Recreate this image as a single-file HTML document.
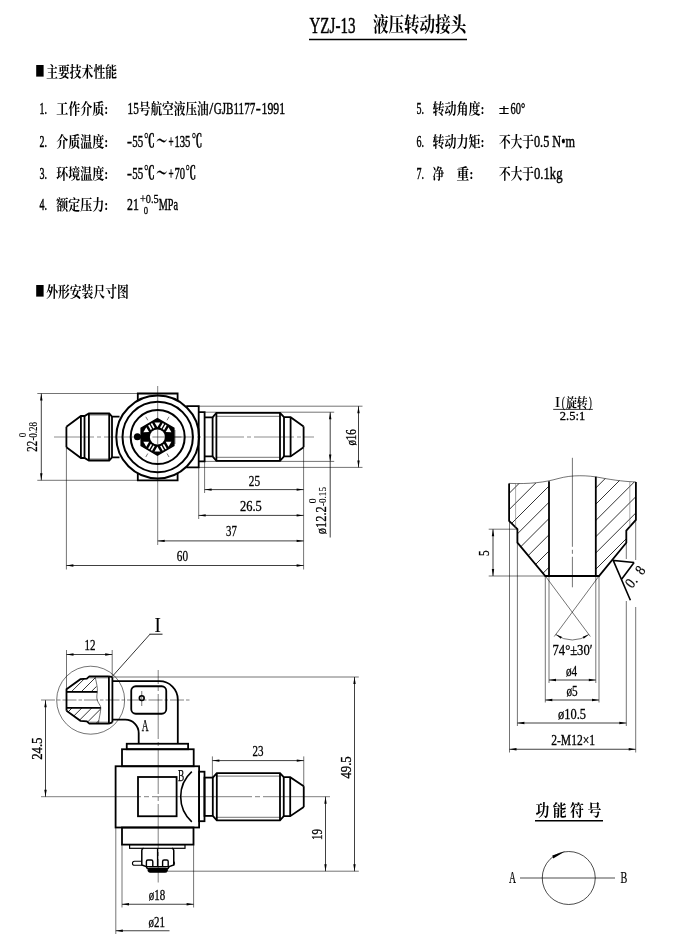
<!DOCTYPE html>
<html lang="zh"><head><meta charset="utf-8"><title>YZJ-13 液压转动接头</title>
<style>
html,body{margin:0;padding:0;background:#fff;}
body{width:689px;height:943px;overflow:hidden;}
svg{display:block;filter:grayscale(1);}
svg line,svg path,svg circle,svg rect{stroke:#000;}
svg text{font-family:"Liberation Serif","Noto Serif CJK SC",serif;fill:#000;stroke:none;}
.cn{font-weight:700;}
</style></head><body>
<svg width="689" height="943" viewBox="0 0 689 943">
<rect x="0" y="0" width="689" height="943" fill="#fff" stroke="none" style="stroke:none"/>
<g id="txt">
<text x="309.50" y="32.50" font-size="24" text-anchor="start" textLength="46.00" lengthAdjust="spacingAndGlyphs" style="stroke:#000;stroke-width:0.5px">YZJ-13</text>
<text x="373.00" y="32.00" font-size="20" text-anchor="start" textLength="93.25" lengthAdjust="spacingAndGlyphs" class="cn" >液压转动接头</text>
<line x1="309.00" y1="39.50" x2="467.00" y2="39.50" stroke-width="1.6" />
<text x="35.20" y="78.20" font-size="24" text-anchor="start" textLength="9.30" lengthAdjust="spacingAndGlyphs" >■</text>
<text x="46.25" y="77.20" font-size="14.5" text-anchor="start" textLength="70.75" lengthAdjust="spacingAndGlyphs" class="cn" >主要技术性能</text>
<text x="35.20" y="297.70" font-size="24" text-anchor="start" textLength="9.30" lengthAdjust="spacingAndGlyphs" >■</text>
<text x="46.25" y="296.70" font-size="14.5" text-anchor="start" textLength="82.50" lengthAdjust="spacingAndGlyphs" class="cn" >外形安装尺寸图</text>
<text x="39.50" y="113.70" font-size="17" text-anchor="start" textLength="7.50" lengthAdjust="spacingAndGlyphs" style="stroke:#000;stroke-width:0.45px">1.</text>
<text x="56.25" y="113.70" font-size="14.5" text-anchor="start" textLength="52.00" lengthAdjust="spacingAndGlyphs" class="cn" >工作介质:</text>
<text x="39.50" y="146.60" font-size="17" text-anchor="start" textLength="7.50" lengthAdjust="spacingAndGlyphs" style="stroke:#000;stroke-width:0.45px">2.</text>
<text x="56.25" y="146.60" font-size="14.5" text-anchor="start" textLength="52.00" lengthAdjust="spacingAndGlyphs" class="cn" >介质温度:</text>
<text x="39.50" y="179.00" font-size="17" text-anchor="start" textLength="7.50" lengthAdjust="spacingAndGlyphs" style="stroke:#000;stroke-width:0.45px">3.</text>
<text x="56.25" y="179.00" font-size="14.5" text-anchor="start" textLength="52.00" lengthAdjust="spacingAndGlyphs" class="cn" >环境温度:</text>
<text x="39.50" y="209.80" font-size="17" text-anchor="start" textLength="7.50" lengthAdjust="spacingAndGlyphs" style="stroke:#000;stroke-width:0.45px">4.</text>
<text x="56.25" y="209.80" font-size="14.5" text-anchor="start" textLength="52.00" lengthAdjust="spacingAndGlyphs" class="cn" >额定压力:</text>
<text x="127.50" y="113.70" font-size="17" text-anchor="start" textLength="11.25" lengthAdjust="spacingAndGlyphs" style="stroke:#000;stroke-width:0.45px">15</text>
<text x="138.75" y="113.70" font-size="14.5" text-anchor="start" textLength="70.00" lengthAdjust="spacingAndGlyphs" class="cn" >号航空液压油</text>
<text x="209.30" y="113.70" font-size="17" text-anchor="start" textLength="4.00" lengthAdjust="spacingAndGlyphs" style="stroke:#000;stroke-width:0.45px">/</text>
<text x="213.75" y="113.70" font-size="17" text-anchor="start" textLength="41.50" lengthAdjust="spacingAndGlyphs" style="stroke:#000;stroke-width:0.45px">GJB1177</text>
<text x="255.80" y="113.70" font-size="17" text-anchor="start" textLength="5.00" lengthAdjust="spacingAndGlyphs" style="stroke:#000;stroke-width:0.45px">-</text>
<text x="261.50" y="113.70" font-size="17" text-anchor="start" textLength="23.50" lengthAdjust="spacingAndGlyphs" style="stroke:#000;stroke-width:0.45px">1991</text>
<text x="127.00" y="146.60" font-size="17" text-anchor="start" textLength="5.00" lengthAdjust="spacingAndGlyphs" style="stroke:#000;stroke-width:0.45px">-</text>
<text x="132.30" y="146.60" font-size="17" text-anchor="start" textLength="10.90" lengthAdjust="spacingAndGlyphs" style="stroke:#000;stroke-width:0.45px">55</text>
<text x="144.00" y="146.60" font-size="18" text-anchor="start" textLength="10.80" lengthAdjust="spacingAndGlyphs" font-weight="900" class="cn" style="stroke:#000;stroke-width:0.4px">℃</text>
<text x="156.30" y="146.60" font-size="17" text-anchor="start" textLength="10.90" lengthAdjust="spacingAndGlyphs" font-weight="900" class="cn" style="stroke:#000;stroke-width:0.3px">～</text>
<text x="168.60" y="146.60" font-size="17" text-anchor="start" textLength="5.10" lengthAdjust="spacingAndGlyphs" style="stroke:#000;stroke-width:0.45px">+</text>
<text x="174.40" y="146.60" font-size="17" text-anchor="start" textLength="16.00" lengthAdjust="spacingAndGlyphs" style="stroke:#000;stroke-width:0.45px">135</text>
<text x="191.80" y="146.60" font-size="18" text-anchor="start" textLength="10.50" lengthAdjust="spacingAndGlyphs" font-weight="900" class="cn" style="stroke:#000;stroke-width:0.4px">℃</text>
<text x="127.00" y="179.00" font-size="17" text-anchor="start" textLength="5.00" lengthAdjust="spacingAndGlyphs" style="stroke:#000;stroke-width:0.45px">-</text>
<text x="132.30" y="179.00" font-size="17" text-anchor="start" textLength="10.90" lengthAdjust="spacingAndGlyphs" style="stroke:#000;stroke-width:0.45px">55</text>
<text x="144.00" y="179.00" font-size="18" text-anchor="start" textLength="10.80" lengthAdjust="spacingAndGlyphs" font-weight="900" class="cn" style="stroke:#000;stroke-width:0.4px">℃</text>
<text x="156.30" y="179.00" font-size="17" text-anchor="start" textLength="10.90" lengthAdjust="spacingAndGlyphs" font-weight="900" class="cn" style="stroke:#000;stroke-width:0.3px">～</text>
<text x="168.60" y="179.00" font-size="17" text-anchor="start" textLength="5.10" lengthAdjust="spacingAndGlyphs" style="stroke:#000;stroke-width:0.45px">+</text>
<text x="174.40" y="179.00" font-size="17" text-anchor="start" textLength="10.60" lengthAdjust="spacingAndGlyphs" style="stroke:#000;stroke-width:0.45px">70</text>
<text x="185.50" y="179.00" font-size="18" text-anchor="start" textLength="10.50" lengthAdjust="spacingAndGlyphs" font-weight="900" class="cn" style="stroke:#000;stroke-width:0.4px">℃</text>
<text x="127.00" y="209.80" font-size="17" text-anchor="start" textLength="11.75" lengthAdjust="spacingAndGlyphs" style="stroke:#000;stroke-width:0.45px">21</text>
<text x="140.00" y="203.30" font-size="13" text-anchor="start" textLength="18.75" lengthAdjust="spacingAndGlyphs" style="stroke:#000;stroke-width:0.3px">+0.5</text>
<text x="143.75" y="214.00" font-size="11" text-anchor="start" textLength="4.30" lengthAdjust="spacingAndGlyphs" style="stroke:#000;stroke-width:0.3px">0</text>
<text x="158.75" y="209.80" font-size="17" text-anchor="start" textLength="19.25" lengthAdjust="spacingAndGlyphs" style="stroke:#000;stroke-width:0.45px">MPa</text>
<text x="416.50" y="113.70" font-size="17" text-anchor="start" textLength="7.50" lengthAdjust="spacingAndGlyphs" style="stroke:#000;stroke-width:0.45px">5.</text>
<text x="432.50" y="113.70" font-size="14.5" text-anchor="start" textLength="52.00" lengthAdjust="spacingAndGlyphs" class="cn" >转动角度:</text>
<text x="498.60" y="113.70" font-size="15" text-anchor="start" textLength="11.00" lengthAdjust="spacingAndGlyphs" class="cn" >±</text>
<text x="510.60" y="113.70" font-size="17" text-anchor="start" textLength="14.60" lengthAdjust="spacingAndGlyphs" style="stroke:#000;stroke-width:0.45px">60°</text>
<text x="416.50" y="146.60" font-size="17" text-anchor="start" textLength="7.50" lengthAdjust="spacingAndGlyphs" style="stroke:#000;stroke-width:0.45px">6.</text>
<text x="432.50" y="146.60" font-size="14.5" text-anchor="start" textLength="52.00" lengthAdjust="spacingAndGlyphs" class="cn" >转动力矩:</text>
<text x="499.00" y="146.60" font-size="14.5" text-anchor="start" textLength="35.00" lengthAdjust="spacingAndGlyphs" class="cn" >不大于</text>
<text x="534.00" y="146.60" font-size="17" text-anchor="start" textLength="41.00" lengthAdjust="spacingAndGlyphs" style="stroke:#000;stroke-width:0.45px">0.5 N•m</text>
<text x="416.50" y="179.00" font-size="17" text-anchor="start" textLength="7.50" lengthAdjust="spacingAndGlyphs" style="stroke:#000;stroke-width:0.45px">7.</text>
<text x="432.50" y="179.00" font-size="14.5" text-anchor="start" textLength="11.60" lengthAdjust="spacingAndGlyphs" class="cn" >净</text>
<text x="456.50" y="179.00" font-size="14.5" text-anchor="start" textLength="17.00" lengthAdjust="spacingAndGlyphs" class="cn" >重:</text>
<text x="499.00" y="179.00" font-size="14.5" text-anchor="start" textLength="35.00" lengthAdjust="spacingAndGlyphs" class="cn" >不大于</text>
<text x="534.00" y="179.00" font-size="17" text-anchor="start" textLength="28.50" lengthAdjust="spacingAndGlyphs" style="stroke:#000;stroke-width:0.45px">0.1kg</text>
</g>
<g id="d1">
<path d="M66.40,426.70 L80.90,416.00 L84.50,416.00 L88.90,413.50 L109.20,413.50 L112.00,416.70 L119.50,416.70" stroke-width="1.8" fill="none" />
<path d="M66.40,447.30 L80.90,458.00 L84.50,458.00 L88.90,460.50 L109.20,460.50 L112.00,457.30 L119.50,457.30" stroke-width="1.8" fill="none" />
<line x1="66.40" y1="426.70" x2="66.40" y2="447.30" stroke-width="1.8" />
<line x1="80.90" y1="416.00" x2="80.90" y2="458.00" stroke-width="1.8" />
<line x1="84.50" y1="416.00" x2="84.50" y2="458.00" stroke-width="1.8" />
<line x1="88.90" y1="413.50" x2="88.90" y2="460.50" stroke-width="1.8" />
<line x1="109.20" y1="413.50" x2="109.20" y2="460.50" stroke-width="1.8" />
<line x1="112.00" y1="416.70" x2="112.00" y2="457.30" stroke-width="1.8" />
<line x1="88.90" y1="415.00" x2="109.20" y2="415.00" stroke-width="0.55" />
<line x1="88.90" y1="459.00" x2="109.20" y2="459.00" stroke-width="0.55" />
<path d="M137.80,400.60 L137.80,393.50 L177.60,393.50 L177.60,400.60" stroke-width="1.8" fill="none" />
<path d="M137.80,473.30 L137.80,480.30 L177.60,480.30 L177.60,473.30" stroke-width="1.8" fill="none" />
<path d="M186.20,406.20 L198.70,406.20 L198.70,467.40 L186.20,467.40" stroke-width="1.8" fill="none" />
<circle cx="157.70" cy="437.00" r="41.40" stroke-width="2.0" fill="none" />
<circle cx="157.70" cy="437.00" r="35.20" stroke-width="2.0" fill="none" />
<circle cx="157.70" cy="437.00" r="27.00" stroke-width="2.0" fill="none" />
<line x1="54.00" y1="437.00" x2="314.00" y2="437.00" stroke-width="0.45" stroke-dasharray="40 3 4 3"/>
<line x1="157.70" y1="386.00" x2="157.70" y2="545.00" stroke-width="0.5" />
<path d="M157.40,418.70 L173.80,428.20 L173.80,445.60 L157.40,455.10 L141.20,445.60 L141.20,428.20 Z" stroke-width="1.6" fill="#000" />
<path d="M154.50,422.40 L160.30,422.40 L157.40,427.30 Z" stroke-width="0" fill="#fff" style="stroke:none"/>
<path d="M168.51,427.14 L171.41,432.16 L165.71,432.10 Z" stroke-width="0" fill="#fff" style="stroke:none"/>
<path d="M171.41,441.64 L168.51,446.66 L165.71,441.70 Z" stroke-width="0" fill="#fff" style="stroke:none"/>
<path d="M160.30,451.40 L154.50,451.40 L157.40,446.50 Z" stroke-width="0" fill="#fff" style="stroke:none"/>
<path d="M146.29,446.66 L143.39,441.64 L149.09,441.70 Z" stroke-width="0" fill="#fff" style="stroke:none"/>
<path d="M143.39,432.16 L146.29,427.14 L149.09,432.10 Z" stroke-width="0" fill="#fff" style="stroke:none"/>
<path d="M160.11,427.61 L161.49,428.41 L164.09,423.91 L162.71,423.11 Z" stroke-width="0" fill="#fff" style="stroke:none"/>
<path d="M162.71,429.11 L164.09,429.91 L166.69,425.41 L165.31,424.61 Z" stroke-width="0" fill="#fff" style="stroke:none"/>
<path d="M164.09,443.89 L162.71,444.69 L165.31,449.19 L166.69,448.39 Z" stroke-width="0" fill="#fff" style="stroke:none"/>
<path d="M161.49,445.39 L160.11,446.19 L162.71,450.69 L164.09,449.89 Z" stroke-width="0" fill="#fff" style="stroke:none"/>
<path d="M154.69,446.19 L153.31,445.39 L150.71,449.89 L152.09,450.69 Z" stroke-width="0" fill="#fff" style="stroke:none"/>
<path d="M152.09,444.69 L150.71,443.89 L148.11,448.39 L149.49,449.19 Z" stroke-width="0" fill="#fff" style="stroke:none"/>
<path d="M150.71,429.91 L152.09,429.11 L149.49,424.61 L148.11,425.41 Z" stroke-width="0" fill="#fff" style="stroke:none"/>
<path d="M153.31,428.41 L154.69,427.61 L152.09,423.11 L150.71,423.91 Z" stroke-width="0" fill="#fff" style="stroke:none"/>
<rect x="141.40" y="434.00" width="9.00" height="5.80" rx="0" stroke-width="0" fill="#000" style="stroke:none"/>
<rect x="164.40" y="434.00" width="9.00" height="5.80" rx="0" stroke-width="0" fill="#000" style="stroke:none"/>
<circle cx="157.40" cy="436.90" r="7.50" stroke-width="0" fill="#fff" style="stroke:none"/>
<line x1="152.40" y1="437.00" x2="181.40" y2="437.00" stroke-width="0.5" />
<line x1="157.70" y1="429.40" x2="157.70" y2="444.40" stroke-width="0.5" />
<circle cx="137.40" cy="436.80" r="2.60" stroke-width="1.8" fill="#000" />
<line x1="139.00" y1="436.80" x2="142.00" y2="436.80" stroke-width="3.0" />
<line x1="174.90" y1="430.00" x2="174.90" y2="444.00" stroke-width="0.6" />
<line x1="167.00" y1="420.27" x2="169.00" y2="416.81" stroke-width="0.55" />
<line x1="147.80" y1="420.27" x2="145.80" y2="416.81" stroke-width="0.55" />
<line x1="167.00" y1="453.53" x2="169.00" y2="456.99" stroke-width="0.55" />
<line x1="147.80" y1="453.53" x2="145.80" y2="456.99" stroke-width="0.55" />
<path d="M198.70,412.20 L204.60,412.20 L204.60,461.40 L198.70,461.40" stroke-width="1.8" fill="none" />
<path d="M204.60,417.30 L212.60,417.30 L216.40,412.80 L280.00,412.80 L284.00,417.20 L290.60,417.20 L303.60,426.40" stroke-width="1.8" fill="none" />
<path d="M204.60,456.30 L212.60,456.30 L216.40,460.80 L280.00,460.80 L284.00,456.40 L290.60,456.40 L303.60,447.20" stroke-width="1.8" fill="none" />
<line x1="212.60" y1="417.30" x2="212.60" y2="456.30" stroke-width="1.8" />
<line x1="216.40" y1="412.80" x2="216.40" y2="460.80" stroke-width="1.8" />
<line x1="280.00" y1="412.80" x2="280.00" y2="460.80" stroke-width="1.8" />
<line x1="284.00" y1="417.20" x2="284.00" y2="456.40" stroke-width="1.8" />
<line x1="290.60" y1="417.20" x2="290.60" y2="456.40" stroke-width="1.8" />
<line x1="303.60" y1="426.40" x2="303.60" y2="447.20" stroke-width="1.8" />
<line x1="216.40" y1="416.30" x2="280.00" y2="416.30" stroke-width="0.55" />
<line x1="216.40" y1="457.30" x2="280.00" y2="457.30" stroke-width="0.55" />
<line x1="37.30" y1="393.50" x2="137.80" y2="393.50" stroke-width="0.55" />
<line x1="37.30" y1="480.30" x2="137.80" y2="480.30" stroke-width="0.55" />
<line x1="41.30" y1="393.50" x2="41.30" y2="480.30" stroke-width="0.75" />
<polygon points="41.30,393.50 42.50,400.50 40.10,400.50" fill="#000" stroke="none"/>
<polygon points="41.30,480.30 40.10,473.30 42.50,473.30" fill="#000" stroke="none"/>
<line x1="198.70" y1="406.20" x2="362.50" y2="406.20" stroke-width="0.55" />
<line x1="198.70" y1="467.40" x2="362.50" y2="467.40" stroke-width="0.55" />
<line x1="358.50" y1="406.20" x2="358.50" y2="467.40" stroke-width="0.75" />
<polygon points="358.50,406.20 359.70,413.20 357.30,413.20" fill="#000" stroke="none"/>
<polygon points="358.50,467.40 357.30,460.40 359.70,460.40" fill="#000" stroke="none"/>
<line x1="204.60" y1="412.20" x2="334.20" y2="412.20" stroke-width="0.55" />
<line x1="204.60" y1="461.40" x2="334.20" y2="461.40" stroke-width="0.55" />
<line x1="330.20" y1="412.20" x2="330.20" y2="461.40" stroke-width="0.75" />
<polygon points="330.20,412.20 331.40,419.20 329.00,419.20" fill="#000" stroke="none"/>
<polygon points="330.20,461.40 329.00,454.40 331.40,454.40" fill="#000" stroke="none"/>
<line x1="330.20" y1="461.40" x2="330.20" y2="537.50" stroke-width="0.75" />
<line x1="303.60" y1="447.40" x2="303.60" y2="569.50" stroke-width="0.55" />
<line x1="204.60" y1="461.40" x2="204.60" y2="493.00" stroke-width="0.55" />
<line x1="204.60" y1="489.60" x2="303.60" y2="489.60" stroke-width="0.75" />
<polygon points="204.60,489.60 211.60,488.40 211.60,490.80" fill="#000" stroke="none"/>
<polygon points="303.60,489.60 296.60,490.80 296.60,488.40" fill="#000" stroke="none"/>
<line x1="198.70" y1="467.40" x2="198.70" y2="519.00" stroke-width="0.55" />
<line x1="198.70" y1="515.40" x2="303.60" y2="515.40" stroke-width="0.75" />
<polygon points="198.70,515.40 205.70,514.20 205.70,516.60" fill="#000" stroke="none"/>
<polygon points="303.60,515.40 296.60,516.60 296.60,514.20" fill="#000" stroke="none"/>
<line x1="157.70" y1="540.90" x2="303.60" y2="540.90" stroke-width="0.75" />
<polygon points="157.70,540.90 164.70,539.70 164.70,542.10" fill="#000" stroke="none"/>
<polygon points="303.60,540.90 296.60,542.10 296.60,539.70" fill="#000" stroke="none"/>
<line x1="66.40" y1="447.30" x2="66.40" y2="569.50" stroke-width="0.55" />
<line x1="66.40" y1="565.50" x2="303.60" y2="565.50" stroke-width="0.75" />
<polygon points="66.40,565.50 73.40,564.30 73.40,566.70" fill="#000" stroke="none"/>
<polygon points="303.60,565.50 296.60,566.70 296.60,564.30" fill="#000" stroke="none"/>
</g>
<g id="d1t">
<text x="248.80" y="485.70" font-size="14.6" text-anchor="start" textLength="11.30" lengthAdjust="spacingAndGlyphs" style="stroke:#000;stroke-width:0.3px">25</text>
<text x="240.00" y="511.40" font-size="14.6" text-anchor="start" textLength="21.80" lengthAdjust="spacingAndGlyphs" style="stroke:#000;stroke-width:0.3px">26.5</text>
<text x="226.00" y="536.40" font-size="14.6" text-anchor="start" textLength="10.80" lengthAdjust="spacingAndGlyphs" style="stroke:#000;stroke-width:0.3px">37</text>
<text x="176.80" y="561.30" font-size="14.6" text-anchor="start" textLength="11.20" lengthAdjust="spacingAndGlyphs" style="stroke:#000;stroke-width:0.3px">60</text>
<text x="0" y="0" transform="translate(355.70,445.60) rotate(-90)" font-size="14.6" text-anchor="start" textLength="16.40" lengthAdjust="spacingAndGlyphs" style="stroke:#000;stroke-width:0.3px">ø16</text>
<text x="0" y="0" transform="translate(326.20,534.20) rotate(-90)" font-size="14.6" text-anchor="start" textLength="27.90" lengthAdjust="spacingAndGlyphs" style="stroke:#000;stroke-width:0.3px">ø12.2</text>
<text x="0" y="0" transform="translate(326.20,506.00) rotate(-90)" font-size="9.5" text-anchor="start" textLength="19.00" lengthAdjust="spacingAndGlyphs" style="stroke:#000;stroke-width:0.1px">-0.15</text>
<text x="0" y="0" transform="translate(315.90,503.20) rotate(-90)" font-size="9.5" text-anchor="start" textLength="4.80" lengthAdjust="spacingAndGlyphs" style="stroke:#000;stroke-width:0.1px">0</text>
<text x="0" y="0" transform="translate(37.10,451.80) rotate(-90)" font-size="14.6" text-anchor="start" textLength="10.90" lengthAdjust="spacingAndGlyphs" style="stroke:#000;stroke-width:0.3px">22</text>
<text x="0" y="0" transform="translate(37.10,440.60) rotate(-90)" font-size="12.5" text-anchor="start" textLength="18.60" lengthAdjust="spacingAndGlyphs" style="stroke:#000;stroke-width:0.1px">-0.28</text>
<text x="0" y="0" transform="translate(26.20,437.30) rotate(-90)" font-size="9.5" text-anchor="start" textLength="4.60" lengthAdjust="spacingAndGlyphs" style="stroke:#000;stroke-width:0.1px">0</text>
</g>
<g id="d2">
<circle cx="90.65" cy="700.20" r="34.00" stroke-width="0.55" fill="none" />
<clipPath id="ct"><path d="M66.5,689.2 L80.4,679.2 L86.8,678.6 L89.4,676.3 L95,676.3 L97.3,691.9 L66.5,691.9 Z"/></clipPath>
<clipPath id="cb"><path d="M66.5,710.8 L80.4,720.8 L86.8,721.4 L89.4,723.7 L98.4,723.7 L100.8,707.9 L66.5,707.9 Z"/></clipPath>
<g clip-path="url(#ct)">
<line x1="38.10" y1="725.00" x2="93.10" y2="670.00" stroke-width="0.8" />
<line x1="48.00" y1="725.00" x2="103.00" y2="670.00" stroke-width="0.8" />
<line x1="57.90" y1="725.00" x2="112.90" y2="670.00" stroke-width="0.8" />
<line x1="67.80" y1="725.00" x2="122.80" y2="670.00" stroke-width="0.8" />
</g><g clip-path="url(#cb)">
<line x1="50.00" y1="730.00" x2="80.00" y2="700.00" stroke-width="0.8" />
<line x1="59.80" y1="730.00" x2="89.80" y2="700.00" stroke-width="0.8" />
<line x1="69.70" y1="730.00" x2="99.70" y2="700.00" stroke-width="0.8" />
<line x1="79.60" y1="730.00" x2="109.60" y2="700.00" stroke-width="0.8" />
<line x1="89.50" y1="730.00" x2="119.50" y2="700.00" stroke-width="0.8" />
</g>
<path d="M66.50,710.80 L66.50,689.20 L80.40,679.20 L86.80,678.60 L89.40,676.30 L108.90,676.30" stroke-width="1.8" fill="none" />
<path d="M66.50,710.80 L80.40,720.80 L86.80,721.40 L89.40,723.70 L108.90,723.70" stroke-width="1.8" fill="none" />
<line x1="108.90" y1="676.30" x2="108.90" y2="723.70" stroke-width="1.8" />
<line x1="112.40" y1="677.20" x2="112.40" y2="722.40" stroke-width="1.8" />
<line x1="108.90" y1="676.30" x2="112.40" y2="677.20" stroke-width="1.8" />
<line x1="108.90" y1="723.70" x2="112.40" y2="722.40" stroke-width="1.8" />
<line x1="89.40" y1="677.80" x2="108.90" y2="677.80" stroke-width="0.55" />
<line x1="89.40" y1="722.20" x2="108.90" y2="722.20" stroke-width="0.55" />
<line x1="66.50" y1="691.90" x2="97.30" y2="691.90" stroke-width="1.8" />
<line x1="66.50" y1="707.90" x2="100.80" y2="707.90" stroke-width="1.8" />
<path d="M95,676.3 C96.5,683 97.8,688 97.3,691.9 C96.8,696 96.2,698 98,702 C99.6,705 100.8,706 100.8,707.9 C100.8,712 99,718 98.4,723.7" stroke-width="0.55" fill="none" />
<path d="M112.4,681.2 L159.5,681.2 A18.3,18.3 0 0 1 177.8,699.5 L177.8,743.75" stroke-width="1.8" fill="none" />
<path d="M112.4,719.6 L125.3,719.6 A13.4,13.4 0 0 1 138.7,733 L138.7,743.75" stroke-width="1.8" fill="none" />
<rect x="131.25" y="686.25" width="35.00" height="27.50" rx="4.5" stroke-width="1.8" fill="none" />
<circle cx="141.75" cy="698.10" r="2.40" stroke-width="1.6" fill="none" />
<line x1="141.75" y1="691.00" x2="141.75" y2="706.00" stroke-width="0.55" />
<rect x="126.75" y="743.75" width="61.35" height="5.50" rx="0" stroke-width="1.8" fill="none" />
<rect x="122.00" y="749.25" width="71.70" height="17.00" rx="0" stroke-width="1.8" fill="none" />
<rect x="115.60" y="766.25" width="83.50" height="61.25" rx="0" stroke-width="1.8" fill="none" />
<rect x="138.00" y="777.00" width="38.60" height="39.25" rx="0" stroke-width="1.8" fill="none" />
<path d="M191.8,771.7 A33.8,33.8 0 0 0 191.8,821.8" stroke-width="1.6" fill="none" />
<rect x="122.00" y="827.50" width="71.50" height="17.10" rx="0" stroke-width="1.8" fill="none" />
<rect x="129.60" y="844.60" width="55.40" height="3.70" rx="0" stroke-width="1.2" fill="none" />
<path d="M143.5,848.3 Q141.8,848.6 141.8,850.5 L141.8,865 L146.2,866.6 L147.3,868.5 L168,868.5 L169.2,866.6 L173.75,865 L173.75,850.5 Q173.75,848.6 172,848.3" stroke-width="1.5" fill="none" />
<line x1="157.60" y1="848.30" x2="157.60" y2="866.60" stroke-width="1.4" />
<path d="M146.4,866.6 L146.4,861.5 Q146.4,860 147.9,860 L151.3,860 Q152.8,860 152.8,861.5 L152.8,866.6" stroke-width="1.4" fill="none" />
<path d="M162.6,866.6 L162.6,861.5 Q162.6,860 164.1,860 L166.7,860 Q168.2,860 168.2,861.5 L168.2,866.6" stroke-width="1.4" fill="none" />
<line x1="146.20" y1="866.60" x2="169.20" y2="866.60" stroke-width="1.2" />
<path d="M141.8,861.2 L134.5,861.2 A2.05,2.05 0 0 0 134.5,865.3 L141.8,865.3" stroke-width="1.1" fill="none" />
<path d="M173.75,861.2 Q175.5,863 173.75,865.3" stroke-width="1.0" fill="none" />
<rect x="148.00" y="868.30" width="19.50" height="3.90" rx="1.8" stroke-width="1.0" fill="#000" />
<rect x="199.10" y="771.70" width="5.40" height="49.50" rx="0" stroke-width="1.8" fill="none" />
<rect x="204.50" y="777.60" width="8.30" height="38.30" rx="0" stroke-width="1.8" fill="none" />
<path d="M212.80,777.60 L216.80,773.10 L280.00,773.10 L283.75,777.20 L290.20,777.20 L303.75,786.30" stroke-width="1.8" fill="none" />
<path d="M212.80,815.80 L216.80,820.30 L280.00,820.30 L283.75,816.20 L290.20,816.20 L303.75,807.10" stroke-width="1.8" fill="none" />
<line x1="216.80" y1="773.10" x2="216.80" y2="820.30" stroke-width="1.8" />
<line x1="280.00" y1="773.10" x2="280.00" y2="820.30" stroke-width="1.8" />
<line x1="283.75" y1="777.20" x2="283.75" y2="816.20" stroke-width="1.8" />
<line x1="290.20" y1="777.20" x2="290.20" y2="816.20" stroke-width="1.8" />
<line x1="303.75" y1="786.30" x2="303.75" y2="807.10" stroke-width="1.8" />
<line x1="216.80" y1="776.10" x2="280.00" y2="776.10" stroke-width="0.55" />
<line x1="216.80" y1="817.30" x2="280.00" y2="817.30" stroke-width="0.55" />
<line x1="41.00" y1="700.00" x2="190.00" y2="700.00" stroke-width="0.5" stroke-dasharray="14 2 3.5 2"/>
<line x1="41.00" y1="796.70" x2="330.00" y2="796.70" stroke-width="0.5" stroke-dasharray="100 3 5 3"/>
<line x1="158.20" y1="670.00" x2="158.20" y2="882.50" stroke-width="0.5" stroke-dasharray="45 3 4 3" stroke-dashoffset="31"/>
<line x1="66.50" y1="650.00" x2="66.50" y2="689.00" stroke-width="0.55" />
<line x1="112.20" y1="650.00" x2="112.20" y2="676.50" stroke-width="0.55" />
<line x1="66.50" y1="654.50" x2="112.20" y2="654.50" stroke-width="0.75" />
<polygon points="66.50,654.50 73.50,653.30 73.50,655.70" fill="#000" stroke="none"/>
<polygon points="112.20,654.50 105.20,655.70 105.20,653.30" fill="#000" stroke="none"/>
<line x1="149.50" y1="634.20" x2="162.50" y2="634.20" stroke-width="0.9" />
<line x1="150.00" y1="634.20" x2="112.50" y2="676.20" stroke-width="0.8" />
<line x1="45.50" y1="700.20" x2="45.50" y2="796.70" stroke-width="0.75" />
<polygon points="45.50,700.20 46.70,707.20 44.30,707.20" fill="#000" stroke="none"/>
<polygon points="45.50,796.70 44.30,789.70 46.70,789.70" fill="#000" stroke="none"/>
<line x1="212.40" y1="756.40" x2="212.40" y2="777.00" stroke-width="0.55" />
<line x1="303.75" y1="756.40" x2="303.75" y2="787.00" stroke-width="0.55" />
<line x1="212.40" y1="760.60" x2="303.75" y2="760.60" stroke-width="0.75" />
<polygon points="212.40,760.60 219.40,759.40 219.40,761.80" fill="#000" stroke="none"/>
<polygon points="303.75,760.60 296.75,761.80 296.75,759.40" fill="#000" stroke="none"/>
<line x1="325.50" y1="796.70" x2="325.50" y2="871.20" stroke-width="0.75" />
<polygon points="325.50,796.70 326.70,803.70 324.30,803.70" fill="#000" stroke="none"/>
<polygon points="325.50,871.20 324.30,864.20 326.70,864.20" fill="#000" stroke="none"/>
<line x1="112.40" y1="677.00" x2="358.80" y2="677.00" stroke-width="0.55" />
<line x1="168.00" y1="871.20" x2="358.80" y2="871.20" stroke-width="0.55" />
<line x1="354.50" y1="677.00" x2="354.50" y2="871.20" stroke-width="0.75" />
<polygon points="354.50,677.00 355.70,684.00 353.30,684.00" fill="#000" stroke="none"/>
<polygon points="354.50,871.20 353.30,864.20 355.70,864.20" fill="#000" stroke="none"/>
<line x1="122.00" y1="844.60" x2="122.00" y2="907.50" stroke-width="0.55" />
<line x1="193.60" y1="844.60" x2="193.60" y2="907.50" stroke-width="0.55" />
<line x1="122.00" y1="904.25" x2="193.60" y2="904.25" stroke-width="0.75" />
<polygon points="122.00,904.25 129.00,903.05 129.00,905.45" fill="#000" stroke="none"/>
<polygon points="193.60,904.25 186.60,905.45 186.60,903.05" fill="#000" stroke="none"/>
<line x1="115.80" y1="827.50" x2="115.80" y2="934.00" stroke-width="0.55" />
<line x1="115.80" y1="930.75" x2="169.50" y2="930.75" stroke-width="0.75" />
<polygon points="115.80,930.75 122.80,929.55 122.80,931.95" fill="#000" stroke="none"/>
</g>
<g id="d2t">
<text x="84.50" y="650.20" font-size="14.6" text-anchor="start" textLength="11.00" lengthAdjust="spacingAndGlyphs" style="stroke:#000;stroke-width:0.3px">12</text>
<text x="154.40" y="631.60" font-size="20" text-anchor="start" textLength="6.40" lengthAdjust="spacingAndGlyphs" style="stroke:#000;stroke-width:0.1px">I</text>
<text x="0" y="0" transform="translate(42.30,759.80) rotate(-90)" font-size="14.6" text-anchor="start" textLength="22.30" lengthAdjust="spacingAndGlyphs" style="stroke:#000;stroke-width:0.3px">24.5</text>
<text x="252.50" y="756.00" font-size="14.6" text-anchor="start" textLength="11.00" lengthAdjust="spacingAndGlyphs" style="stroke:#000;stroke-width:0.3px">23</text>
<text x="0" y="0" transform="translate(321.50,840.00) rotate(-90)" font-size="14.6" text-anchor="start" textLength="11.00" lengthAdjust="spacingAndGlyphs" style="stroke:#000;stroke-width:0.3px">19</text>
<text x="0" y="0" transform="translate(350.70,778.60) rotate(-90)" font-size="14.6" text-anchor="start" textLength="22.30" lengthAdjust="spacingAndGlyphs" style="stroke:#000;stroke-width:0.3px">49.5</text>
<text x="148.80" y="900.20" font-size="14.6" text-anchor="start" textLength="16.40" lengthAdjust="spacingAndGlyphs" style="stroke:#000;stroke-width:0.3px">ø18</text>
<text x="148.50" y="926.50" font-size="14.6" text-anchor="start" textLength="16.40" lengthAdjust="spacingAndGlyphs" style="stroke:#000;stroke-width:0.3px">ø21</text>
<text x="141.70" y="731.20" font-size="17" text-anchor="start" textLength="6.80" lengthAdjust="spacingAndGlyphs" style="stroke:#000;stroke-width:0.25px">A</text>
<text x="178.00" y="780.60" font-size="16" text-anchor="start" textLength="6.20" lengthAdjust="spacingAndGlyphs" style="stroke:#000;stroke-width:0.25px">B</text>
</g>
<g id="d3">
<clipPath id="cl"><path d="M509.1,483.4 C530,484.2 545,482.3 549,481.3 L549,576 L545.3,576 L517.4,542.7 L517.4,529.2 L509.1,520.9 Z"/></clipPath><clipPath id="cr"><path d="M595.8,476.7 C605,478.6 625,481.6 635.9,481.9 L635.9,519.8 L626.3,530.7 L626.3,542.7 L599,576 L595.8,576 Z"/></clipPath>
<g clip-path="url(#cl)">
<line x1="380.00" y1="590.00" x2="500.00" y2="470.00" stroke-width="0.8" />
<line x1="396.25" y1="590.00" x2="516.25" y2="470.00" stroke-width="0.8" />
<line x1="412.50" y1="590.00" x2="532.50" y2="470.00" stroke-width="0.8" />
<line x1="428.75" y1="590.00" x2="548.75" y2="470.00" stroke-width="0.8" />
<line x1="445.00" y1="590.00" x2="565.00" y2="470.00" stroke-width="0.8" />
<line x1="461.25" y1="590.00" x2="581.25" y2="470.00" stroke-width="0.8" />
<line x1="477.50" y1="590.00" x2="597.50" y2="470.00" stroke-width="0.8" />
<line x1="493.75" y1="590.00" x2="613.75" y2="470.00" stroke-width="0.8" />
<line x1="510.00" y1="590.00" x2="630.00" y2="470.00" stroke-width="0.8" />
<line x1="526.25" y1="590.00" x2="646.25" y2="470.00" stroke-width="0.8" />
<line x1="542.50" y1="590.00" x2="662.50" y2="470.00" stroke-width="0.8" />
<line x1="558.75" y1="590.00" x2="678.75" y2="470.00" stroke-width="0.8" />
<line x1="575.00" y1="590.00" x2="695.00" y2="470.00" stroke-width="0.8" />
<line x1="591.25" y1="590.00" x2="711.25" y2="470.00" stroke-width="0.8" />
<line x1="607.50" y1="590.00" x2="727.50" y2="470.00" stroke-width="0.8" />
<line x1="623.75" y1="590.00" x2="743.75" y2="470.00" stroke-width="0.8" />
<line x1="640.00" y1="590.00" x2="760.00" y2="470.00" stroke-width="0.8" />
<line x1="656.25" y1="590.00" x2="776.25" y2="470.00" stroke-width="0.8" />
</g>
<g clip-path="url(#cr)">
<line x1="380.00" y1="590.00" x2="500.00" y2="470.00" stroke-width="0.8" />
<line x1="396.25" y1="590.00" x2="516.25" y2="470.00" stroke-width="0.8" />
<line x1="412.50" y1="590.00" x2="532.50" y2="470.00" stroke-width="0.8" />
<line x1="428.75" y1="590.00" x2="548.75" y2="470.00" stroke-width="0.8" />
<line x1="445.00" y1="590.00" x2="565.00" y2="470.00" stroke-width="0.8" />
<line x1="461.25" y1="590.00" x2="581.25" y2="470.00" stroke-width="0.8" />
<line x1="477.50" y1="590.00" x2="597.50" y2="470.00" stroke-width="0.8" />
<line x1="493.75" y1="590.00" x2="613.75" y2="470.00" stroke-width="0.8" />
<line x1="510.00" y1="590.00" x2="630.00" y2="470.00" stroke-width="0.8" />
<line x1="526.25" y1="590.00" x2="646.25" y2="470.00" stroke-width="0.8" />
<line x1="542.50" y1="590.00" x2="662.50" y2="470.00" stroke-width="0.8" />
<line x1="558.75" y1="590.00" x2="678.75" y2="470.00" stroke-width="0.8" />
<line x1="575.00" y1="590.00" x2="695.00" y2="470.00" stroke-width="0.8" />
<line x1="591.25" y1="590.00" x2="711.25" y2="470.00" stroke-width="0.8" />
<line x1="607.50" y1="590.00" x2="727.50" y2="470.00" stroke-width="0.8" />
<line x1="623.75" y1="590.00" x2="743.75" y2="470.00" stroke-width="0.8" />
<line x1="640.00" y1="590.00" x2="760.00" y2="470.00" stroke-width="0.8" />
<line x1="656.25" y1="590.00" x2="776.25" y2="470.00" stroke-width="0.8" />
</g>
<path d="M509.1,483.4 C530,484.2 545,482.3 558,478.6 C572,474.6 588,475.3 600,477.6 C615,480.5 628,481.8 635.9,481.9" stroke-width="0.55" fill="none" />
<path d="M509.10,483.40 L509.10,520.90 L517.40,529.20 L517.40,542.70 L545.30,576.00 L599.00,576.00 L626.30,542.70 L626.30,530.70 L635.90,519.80 L635.90,481.90" stroke-width="1.8" fill="none" />
<line x1="549.00" y1="481.30" x2="549.00" y2="576.00" stroke-width="1.8" />
<line x1="595.80" y1="476.70" x2="595.80" y2="576.00" stroke-width="1.8" />
<line x1="515.60" y1="483.60" x2="515.60" y2="527.40" stroke-width="0.55" style="stroke:#666"/>
<line x1="629.80" y1="481.60" x2="629.80" y2="526.80" stroke-width="0.55" style="stroke:#666"/>
<line x1="572.40" y1="457.80" x2="572.40" y2="587.30" stroke-width="0.55" stroke-dasharray="89 3 4 3"/>
<line x1="509.50" y1="520.90" x2="509.50" y2="752.50" stroke-width="0.55" />
<line x1="517.40" y1="542.70" x2="517.40" y2="726.00" stroke-width="0.55" />
<line x1="545.30" y1="576.00" x2="545.30" y2="702.50" stroke-width="0.55" />
<line x1="549.00" y1="576.00" x2="549.00" y2="683.00" stroke-width="0.55" />
<line x1="595.80" y1="576.00" x2="595.80" y2="683.00" stroke-width="0.55" />
<line x1="599.00" y1="576.00" x2="599.00" y2="702.50" stroke-width="0.55" />
<line x1="626.30" y1="542.70" x2="626.30" y2="559.00" stroke-width="0.55" />
<line x1="626.30" y1="601.00" x2="626.30" y2="726.00" stroke-width="0.55" />
<line x1="635.70" y1="519.80" x2="635.70" y2="560.00" stroke-width="0.55" />
<line x1="635.70" y1="607.00" x2="635.70" y2="752.50" stroke-width="0.55" />
<line x1="545.30" y1="576.00" x2="590.35" y2="636.50" stroke-width="0.55" />
<line x1="599.00" y1="576.00" x2="554.25" y2="636.50" stroke-width="0.55" />
<path d="M588.85,634.46 A27.5,27.5 0 0 1 555.75,634.46" stroke-width="0.55" fill="none" />
<polygon points="588.85,634.46 583.68,638.74 582.81,636.72" fill="#000" stroke="none"/>
<polygon points="555.75,634.46 560.92,638.74 561.79,636.72" fill="#000" stroke="none"/>
<line x1="488.70" y1="529.20" x2="517.40" y2="529.20" stroke-width="0.55" />
<line x1="488.70" y1="576.00" x2="545.30" y2="576.00" stroke-width="0.55" />
<line x1="493.00" y1="529.20" x2="493.00" y2="576.00" stroke-width="0.75" />
<polygon points="493.00,529.20 494.20,536.20 491.80,536.20" fill="#000" stroke="none"/>
<polygon points="493.00,576.00 491.80,569.00 494.20,569.00" fill="#000" stroke="none"/>
<path d="M634.1,562.5 L613.2,560.4 L630.4,600.3 M634.1,562.5 L621.4,579.4" stroke-width="1.6" fill="none" />
<line x1="549.00" y1="680.00" x2="595.80" y2="680.00" stroke-width="0.75" />
<polygon points="549.00,680.00 556.00,678.80 556.00,681.20" fill="#000" stroke="none"/>
<polygon points="595.80,680.00 588.80,681.20 588.80,678.80" fill="#000" stroke="none"/>
<line x1="545.30" y1="700.00" x2="599.00" y2="700.00" stroke-width="0.75" />
<polygon points="545.30,700.00 552.30,698.80 552.30,701.20" fill="#000" stroke="none"/>
<polygon points="599.00,700.00 592.00,701.20 592.00,698.80" fill="#000" stroke="none"/>
<line x1="517.40" y1="723.00" x2="626.30" y2="723.00" stroke-width="0.75" />
<polygon points="517.40,723.00 524.40,721.80 524.40,724.20" fill="#000" stroke="none"/>
<polygon points="626.30,723.00 619.30,724.20 619.30,721.80" fill="#000" stroke="none"/>
<line x1="509.50" y1="749.25" x2="635.70" y2="749.25" stroke-width="0.75" />
<polygon points="509.50,749.25 516.50,748.05 516.50,750.45" fill="#000" stroke="none"/>
<polygon points="635.70,749.25 628.70,750.45 628.70,748.05" fill="#000" stroke="none"/>
</g>
<g id="d3t">
<text x="555.20" y="407.30" font-size="15.4" text-anchor="start" textLength="4.60" lengthAdjust="spacingAndGlyphs" style="stroke:#000;stroke-width:0.2px">I</text>
<text x="561.80" y="407.00" font-size="14.5" text-anchor="start" textLength="3.10" lengthAdjust="spacingAndGlyphs" style="stroke:#000;stroke-width:0.2px">(</text>
<text x="565.90" y="407.00" font-size="12.8" text-anchor="start" textLength="21.80" lengthAdjust="spacingAndGlyphs" class="cn" >旋转</text>
<text x="588.80" y="407.00" font-size="14.5" text-anchor="start" textLength="3.10" lengthAdjust="spacingAndGlyphs" style="stroke:#000;stroke-width:0.2px">)</text>
<line x1="553.20" y1="409.40" x2="592.80" y2="409.40" stroke-width="0.8" />
<text x="559.80" y="420.00" font-size="13.5" text-anchor="start" textLength="25.40" lengthAdjust="spacingAndGlyphs" style="stroke:#000;stroke-width:0.3px">2.5:1</text>
<text x="0" y="0" transform="translate(488.70,555.90) rotate(-90)" font-size="14.6" text-anchor="start" textLength="5.60" lengthAdjust="spacingAndGlyphs" style="stroke:#000;stroke-width:0.3px">5</text>
<g transform="translate(632.1,589) rotate(-53)">
<text x="0.00" y="0.00" font-size="15" text-anchor="start" textLength="10.20" lengthAdjust="spacingAndGlyphs" style="stroke:#000;stroke-width:0.2px">0.</text>
<text x="16.70" y="0.00" font-size="15" text-anchor="start" textLength="6.50" lengthAdjust="spacingAndGlyphs" style="stroke:#000;stroke-width:0.2px">8</text>
</g>
<text x="552.50" y="655.30" font-size="14.8" text-anchor="start" textLength="40.00" lengthAdjust="spacingAndGlyphs" style="stroke:#000;stroke-width:0.3px">74°±30′</text>
<text x="566.00" y="676.20" font-size="14.6" text-anchor="start" textLength="11.20" lengthAdjust="spacingAndGlyphs" style="stroke:#000;stroke-width:0.3px">ø4</text>
<text x="566.50" y="696.20" font-size="14.6" text-anchor="start" textLength="11.20" lengthAdjust="spacingAndGlyphs" style="stroke:#000;stroke-width:0.3px">ø5</text>
<text x="558.00" y="719.30" font-size="14.6" text-anchor="start" textLength="28.00" lengthAdjust="spacingAndGlyphs" style="stroke:#000;stroke-width:0.3px">ø10.5</text>
<text x="551.25" y="745.20" font-size="14.6" text-anchor="start" textLength="43.75" lengthAdjust="spacingAndGlyphs" style="stroke:#000;stroke-width:0.3px">2-M12×1</text>
</g>
<g id="d4">
<text x="535.50" y="816.30" font-size="15.5" text-anchor="start" textLength="65.75" lengthAdjust="spacingAndGlyphs" class="cn" >功 能 符 号</text>
<line x1="535.00" y1="820.75" x2="603.00" y2="820.75" stroke-width="1.5" />
<circle cx="568.75" cy="878.00" r="26.50" stroke-width="0.7" fill="none" />
<line x1="520.00" y1="878.00" x2="615.00" y2="878.00" stroke-width="0.7" />
<polygon points="565.3,851.2 552.3,855.6 553.2,858.4" fill="#000" stroke="none"/>
<text x="509.00" y="882.50" font-size="17" text-anchor="start" textLength="7.00" lengthAdjust="spacingAndGlyphs" style="stroke:#000;stroke-width:0.2px">A</text>
<text x="620.60" y="882.50" font-size="17" text-anchor="start" textLength="6.80" lengthAdjust="spacingAndGlyphs" style="stroke:#000;stroke-width:0.2px">B</text>
</g>
</svg>
</body></html>
